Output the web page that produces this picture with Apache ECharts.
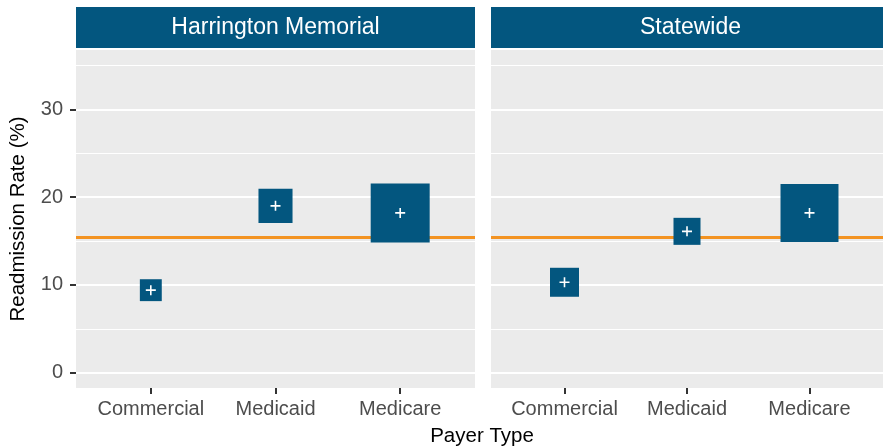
<!DOCTYPE html>
<html>
<head>
<meta charset="utf-8">
<script src="https://cdn.jsdelivr.net/npm/echarts@6/dist/echarts.min.js"></script>
<style>
  html, body { margin: 0; padding: 0; background: #fff; }
  #chart { width: 883px; height: 448px; }
</style>
</head>
<body>
<div id="chart"></div>
<script>
  // payer categories and facet panels
  var categories = ['Commercial', 'Medicaid', 'Medicare'];
  var panels = ['Harrington Memorial', 'Statewide'];

  // readmission rate (%) per payer
  var harringtonRate = [9.4, 19.0, 18.2];
  var statewideRate = [10.3, 16.1, 18.2];

  // discharge volume, drives the square size (area)
  var harringtonVolume = [480, 1160, 3480];
  var statewideVolume = [840, 730, 3360];

  // statewide benchmark rate
  var benchmark = 15.4;

  var yTicks = [0, 10, 20, 30];
  var yMinor = [5, 15, 25, 35];

  var blue = '#03567F';
  var orange = '#F39322';
  var font = "'Liberation Sans', Arial, sans-serif";
  var plusPath = 'path://M4.2,0h1.6v4.2h4.2v1.6h-4.2v4.2h-1.6v-4.2h-4.2v-1.6h4.2z';

  function points(rates, volumes) {
    return rates.map(function (r, i) {
      return { value: [i + 1, r], vol: volumes[i] };
    });
  }

  var grids = [
    { left: 76, top: 50, width: 399, height: 338 },
    { left: 491, top: 50, width: 399, height: 338 }
  ];

  var xAxes = [0, 1].map(function (i) {
    return {
      type: 'value', gridIndex: i, min: 0.4, max: 3.6,
      axisLine: { show: false, onZero: false },
      splitLine: { show: false },
      axisTick: { show: true, customValues: [1, 2, 3], length: 6, lineStyle: { color: '#333', width: 2 } },
      axisLabel: {
        customValues: [1, 2, 3], margin: 11,
        color: '#4D4D4D', fontSize: 20, fontFamily: font,
        formatter: function (v) { return categories[v - 1]; }
      }
    };
  });

  var yAxes = [0, 1].map(function (i) {
    return {
      type: 'value', gridIndex: i, min: -1.74, max: 36.75,
      name: i === 0 ? 'Readmission Rate (%)' : '',
      nameLocation: 'middle', nameGap: 47,
      nameTextStyle: { color: '#000', fontSize: 20.5, fontFamily: font },
      axisLine: { show: false, onZero: false },
      splitLine: { show: false },
      axisTick: { show: i === 0, customValues: yTicks, length: 6, lineStyle: { color: '#333', width: 2 } },
      axisLabel: {
        show: i === 0, customValues: yTicks, margin: 13,
        color: '#4D4D4D', fontSize: 20, fontFamily: font
      }
    };
  });

  var series = [];
  [harringtonRate, statewideRate].forEach(function (rates, i) {
    var vols = i === 0 ? harringtonVolume : statewideVolume;
    // panel grid lines
    series.push({
      type: 'scatter', xAxisIndex: i, yAxisIndex: i, data: [], z: 1, silent: true,
      markLine: {
        z: 1, silent: true, symbol: ['none', 'none'], label: { show: false }, animation: false,
        data: yTicks.map(function (v) { return { yAxis: v, lineStyle: { color: '#fff', width: 2, type: 'solid' } }; })
          .concat(yMinor.map(function (v) { return { yAxis: v, lineStyle: { color: '#fff', width: 1, type: 'solid' } }; }))
      }
    });
    // benchmark line
    series.push({
      type: 'scatter', xAxisIndex: i, yAxisIndex: i, data: [], z: 2, silent: true,
      markLine: {
        z: 2, silent: true, symbol: ['none', 'none'], label: { show: false }, animation: false,
        data: [{ yAxis: benchmark, lineStyle: { color: orange, width: 3, type: 'solid' } }]
      }
    });
    // squares
    series.push({
      type: 'scatter', xAxisIndex: i, yAxisIndex: i, z: 3,
      symbol: 'rect',
      symbolSize: function (val, p) { return Math.sqrt(p.data.vol); },
      itemStyle: { color: blue, opacity: 1 },
      data: points(rates, vols)
    });
    // plus markers
    series.push({
      type: 'scatter', xAxisIndex: i, yAxisIndex: i, z: 4,
      symbol: plusPath, symbolSize: 10,
      itemStyle: { color: '#fff', opacity: 1 },
      data: points(rates, vols)
    });
  });

  var graphics = [];
  grids.forEach(function (g, i) {
    graphics.push({
      type: 'rect', left: g.left, top: 7,
      shape: { width: g.width, height: 41 },
      style: { fill: blue }
    });
    graphics.push({
      type: 'text', x: g.left + g.width / 2, y: 28,
      style: {
        text: panels[i], fill: '#fff', fontSize: 23, fontFamily: font,
        textAlign: 'center', textVerticalAlign: 'middle'
      }
    });
  });
  graphics.push({
    type: 'text', x: 482, y: 436,
    style: {
      text: 'Payer Type', fill: '#000', fontSize: 20.5, fontFamily: font,
      textAlign: 'center', textVerticalAlign: 'middle'
    }
  });

  var option = {
    animation: false,
    backgroundColor: '#fff',
    grid: grids.map(function (g) {
      return Object.assign({ show: true, backgroundColor: '#EBEBEB', borderWidth: 0 }, g);
    }),
    xAxis: xAxes,
    yAxis: yAxes,
    series: series,
    graphic: graphics
  };

  var myChart = echarts.init(document.getElementById('chart'));
  myChart.setOption(option);
</script>
</body>
</html>
